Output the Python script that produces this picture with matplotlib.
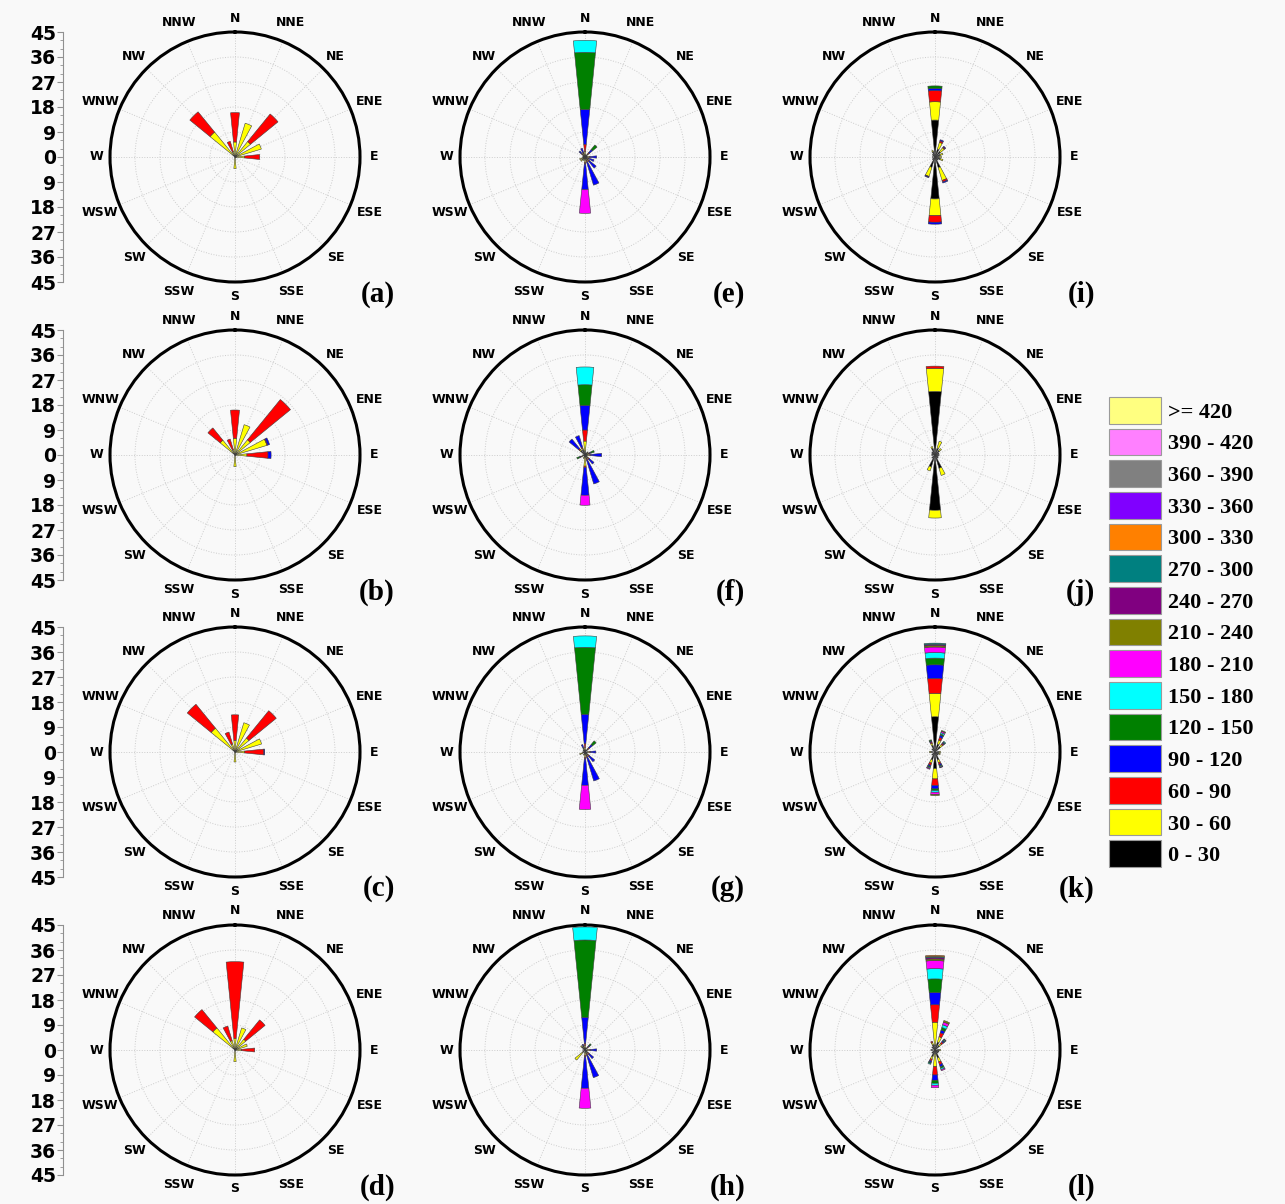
import numpy as np
import matplotlib.pyplot as plt
from matplotlib.patches import Patch
from matplotlib.ticker import MultipleLocator

directions = ['N', 'NNE', 'NE', 'ENE', 'E', 'ESE', 'SE', 'SSE',
              'S', 'SSW', 'SW', 'WSW', 'W', 'WNW', 'NW', 'NNW']

bin_labels = ['0 - 30', '30 - 60', '60 - 90', '90 - 120', '120 - 150',
              '150 - 180', '180 - 210', '210 - 240', '240 - 270', '270 - 300',
              '300 - 330', '330 - 360', '360 - 390', '390 - 420', '>= 420']
bin_colors = ['#000000', '#ffff00', '#ff0000', '#0000ff', '#008000',
              '#00ffff', '#ff00ff', '#808000', '#800080', '#008080',
              '#ff8000', '#8000ff', '#808080', '#ff80ff', '#ffff80']

# segment lengths per direction, in bin order (0-30 first)
panel_a = {'N': [0.6, 4.8, 10.6], 'NNE': [0.5, 12.2], 'NE': [0.5, 6.7, 12.8],
           'ENE': [0.5, 9.4], 'E': [0.5, 3.0, 5.4], 'ESE': [0.5], 'SE': [0.3],
           'S': [0.4, 3.8], 'NW': [0.6, 11.0, 9.4], 'NNW': [0.5, 1.5, 3.9]}
panel_b = {'N': [0.6, 5.4, 10.2], 'NNE': [0.5, 10.9], 'NE': [0.5, 6.6, 18.7],
           'ENE': [0.5, 11.5, 0.3, 0.7], 'E': [0.5, 3.8, 7.6, 1.1], 'SE': [0.3],
           'S': [0.4, 3.8], 'NW': [0.6, 6.3, 5.7], 'NNW': [0.5, 1.5, 4.0]}
panel_c = {'N': [0.6, 3.6, 9.2], 'NNE': [0.5, 10.5], 'NE': [0.5, 6.0, 12.7],
           'ENE': [0.5, 9.5], 'E': [0.5, 3.0, 6.9, 0.3], 'SE': [0.3],
           'S': [0.4, 3.2], 'NW': [0.6, 10.5, 11.1], 'NNW': [0.5, 2.5, 4.5]}
panel_d = {'N': [0.6, 3.6, 27.6], 'NNE': [0.5, 7.8], 'NE': [0.5, 4.5, 9.0],
           'ENE': [0.5, 4.1], 'E': [0.5, 1.8, 4.8], 'SE': [0.3],
           'S': [0.4, 3.8], 'NW': [0.6, 9.7, 8.5], 'NNW': [0.5, 3.0, 5.5]}
panel_e = {'N': [1.0, 1.0, 2.6, 12.5, 20.6, 4.3],
           'S': [1.0, 1.0, 0.5, 9.3, 0, 0, 8.5],
           'SSE': [1.0, 0.5, 0.5, 8.6], 'SE': [1.0, 0.5, 0.5, 3.2],
           'E': [1.0, 0.5, 0.3, 2.4], 'ESE': [0.8, 0.3, 0.3, 2.0],
           'NE': [1.0, 0.5, 0.5, 1.5, 2.1], 'NNW': [1.0, 0.5, 0.3, 1.5],
           'WSW': [0.8, 1.2], 'W': [0.8], 'NW': [1.0, 0.3, 0.3, 1.2],
           'SSW': [0.8, 0.5], 'SW': [1.2, 0.8], 'ENE': [0.8], 'NNE': [0.8], 'WNW': [0.8]}
panel_f = {'N': [1.5, 3.5, 4.0, 8.9, 7.4, 6.4],
           'S': [1.0, 3.0, 0.5, 10.0, 0, 0, 3.6],
           'SSE': [1.0, 0.5, 0.5, 8.9], 'NW': [2.0, 0.5, 0.5, 4.4],
           'NNW': [2.0, 0.5, 0.5, 4.3], 'E': [1.0, 0.5, 0.5, 4.0],
           'SE': [1.0, 0.5, 0.5, 2.2], 'ENE': [1.0, 0.5, 0.3, 0.5, 1.2],
           'WSW': [1.0, 0.5, 0.3, 0.3, 1.0], 'NE': [1.0, 0.5],
           'SSW': [0.8, 0.5], 'W': [0.8], 'ESE': [0.8], 'NNE': [0.8]}
panel_g = {'N': [0.8, 0.8, 1.4, 10.6, 24.1, 4.1],
           'S': [1.0, 1.0, 0.5, 9.5, 0, 0, 8.7],
           'SSE': [1.0, 0.5, 0.5, 8.9], 'NE': [1.0, 0.5, 0.5, 1.5, 1.7],
           'SE': [1.0, 0.5, 0.5, 2.5], 'E': [1.0, 0.5, 0.4, 2.0],
           'NNW': [1.0, 0.3, 0.3, 1.2], 'WSW': [0.8, 1.2], 'NW': [0.8],
           'W': [0.8], 'SSW': [0.8, 0.4], 'ESE': [0.8], 'NNE': [0.8]}
panel_h = {'N': [0.8, 0.8, 0.8, 9.4, 27.8, 4.7],
           'S': [1.0, 1.0, 0.5, 11.3, 0, 0, 7.2],
           'SSE': [1.0, 0.5, 0.5, 8.4], 'SW': [1.0, 3.7],
           'E': [1.0, 0.5, 0.5, 2.2], 'SE': [1.0, 0.5, 0.5, 2.0],
           'NW': [1.5, 0.5], 'NNW': [1.0, 0.3, 0.3, 0.6],
           'NE': [1.0, 0.3, 0.3, 0.5, 0.8], 'W': [0.8], 'ESE': [0.8], 'NNE': [0.8]}
panel_i = {'N': [13.3, 6.6, 4.0, 0.8, 0.9], 'S': [15.1, 6.0, 2.4, 0.7],
           'SSW': [3.9, 3.4, 0.2, 0.3], 'SSE': [4.0, 4.8, 0.6, 0.4],
           'NNE': [3.0, 2.5, 0.6, 0.4], 'NE': [2.5, 1.8, 0.4, 0.3],
           'ENE': [2.0, 1.0], 'E': [1.5, 0.8], 'ESE': [2.0, 1.0],
           'NNW': [2.0, 0.5], 'SE': [1.5], 'SW': [1.2], 'NW': [1.2], 'W': [1.0]}
panel_j = {'N': [22.9, 8.3, 0.8], 'S': [19.9, 2.8], 'NNE': [2.5, 2.7],
           'SSE': [5.0, 2.7], 'SSW': [4.5, 1.5], 'NNW': [2.5, 0.7],
           'NE': [2.0, 1.0], 'ENE': [1.5], 'E': [1.5], 'SE': [1.5],
           'SW': [1.5], 'W': [1.2], 'NW': [1.5], 'ESE': [1.2], 'WNW': [1.2]}
panel_k = {'N': [12.7, 8.4, 5.4, 4.9, 2.4, 2.0, 2.0, 0.5, 0.4, 0.5],
           'S': [6.0, 3.7, 2.4, 1.2, 0.6, 0.6, 0.8, 0.4],
           'NNE': [3.0, 1.5, 1.0, 0.8, 0.5, 0.5, 0.5, 0.3],
           'NE': [2.5, 1.0, 0.5, 0.4, 0.3, 0.3],
           'SSW': [3.0, 1.2, 0.8, 0.5, 0.4, 0.3, 0.3],
           'SSE': [3.0, 1.0, 0.7, 0.5, 0.3, 0.3, 0.2],
           'NNW': [2.5, 0.8, 0.5, 0.4, 0.4], 'E': [1.5, 0.5],
           'ESE': [1.5, 0.5], 'W': [1.5, 0.5], 'SE': [1.5], 'SW': [1.5], 'NW': [1.5]}
panel_l = {'N': [1.8, 8.2, 6.3, 4.4, 4.9, 3.7, 2.9, 0.6, 0.5, 0.4, 0.4],
           'S': [1.5, 4.5, 3.0, 1.9, 1.1, 0.7, 0.9],
           'NNE': [3.0, 2.0, 1.5, 1.0, 1.0, 1.0, 1.0, 0.6],
           'NE': [2.0, 1.0, 0.8, 0.5, 0.4, 0.3, 0.2],
           'SSE': [3.0, 1.5, 1.0, 0.8, 0.6, 0.5, 0.4],
           'SSW': [2.5, 1.0, 0.7, 0.5, 0.4, 0.3],
           'NNW': [2.0, 0.8, 0.5], 'E': [1.5, 0.5], 'ESE': [1.5],
           'W': [1.5], 'SE': [1.5], 'SW': [1.5], 'NW': [1.5]}

panels = [('a', panel_a), ('b', panel_b), ('c', panel_c), ('d', panel_d),
          ('e', panel_e), ('f', panel_f), ('g', panel_g), ('h', panel_h),
          ('i', panel_i), ('j', panel_j), ('k', panel_k), ('l', panel_l)]

scale_ticks = np.arange(-45, 46, 9)

W, H = 1285, 1204
R = 125
col_x = [235, 585, 935]
row_y = [157, 455, 752, 1050]
BG = '#f9f9f9'

fig = plt.figure(figsize=(W / 100, H / 100), dpi=100, facecolor=BG)
theta = np.deg2rad(np.arange(16) * 22.5)

for n, (letter, data) in enumerate(panels):
    cx, cy = col_x[n // 4], row_y[n % 4]
    ax = fig.add_axes([(cx - R) / W, 1 - (cy + R) / H, 2 * R / W, 2 * R / H],
                      projection='polar')
    ax.set_theta_zero_location('N')
    ax.set_theta_direction(-1)
    ax.set_facecolor('none')

    # build direction x bin matrix
    mat = np.zeros((16, len(bin_labels)))
    for d, segs in data.items():
        mat[directions.index(d), :len(segs)] = segs
    bottom = np.zeros(16)
    for k in range(len(bin_labels)):
        h = mat[:, k]
        m = h > 0
        if m.any():
            ax.bar(theta[m], h[m], width=np.deg2rad(11.5), bottom=bottom[m],
                   color=bin_colors[k], edgecolor='#404040', linewidth=0.4, zorder=3)
        bottom += h

    ax.set_ylim(0, 45)
    ax.set_yticks([9, 18, 27, 36])
    ax.set_yticklabels([])
    ax.set_xticks(theta)
    ax.set_xticklabels([])
    ax.grid(color='#cccccc', linestyle=':', linewidth=0.7)
    ax.tick_params(axis='x', direction='in', length=5, width=1.5, colors='black')
    ax.spines['polar'].set_color('black')
    ax.spines['polar'].set_linewidth(2.2)

    for i, d in enumerate(directions):
        rpx = 139 + 3.5 * (len(d) - 1)
        ax.text(theta[i], 45 * rpx / R, d, ha='center', va='center',
                fontsize=9, fontweight='bold', clip_on=False)

    fig.text((cx + 160) / W, 1 - (cy + 137) / H, '(' + letter + ')',
             ha='right', va='center', family='Liberation Serif',
             fontweight='bold', fontsize=21)

# left radial scales
for cy in row_y:
    sax = fig.add_axes([63 / W, 1 - (cy + R) / H, 0.0001, 2 * R / H])
    sax.set_facecolor('none')
    sax.set_ylim(-45, 45)
    sax.set_yticks(scale_ticks)
    sax.set_yticklabels([str(abs(t)) for t in scale_ticks])
    sax.yaxis.set_minor_locator(MultipleLocator(3))
    sax.set_xticks([])
    for s in ['top', 'right', 'bottom']:
        sax.spines[s].set_visible(False)
    sax.spines['left'].set_color('#909090')
    sax.spines['left'].set_linewidth(0.8)
    sax.tick_params(axis='y', which='major', length=4, width=0.8, color='#909090',
                    labelsize=13.5, pad=1)
    sax.tick_params(axis='y', which='minor', length=2, width=0.6, color='#909090')
    for lbl in sax.get_yticklabels():
        lbl.set_fontweight('bold')

handles = [Patch(facecolor=c, edgecolor='#9a9a9a', linewidth=0.8) for c in bin_colors[::-1]]
fs = 16
fpx = fs * 100 / 72
fig.legend(handles, bin_labels[::-1], loc='upper left',
           bbox_to_anchor=(1109 / W, 1 - 397 / H), frameon=False,
           prop={'family': 'Liberation Serif', 'weight': 'bold', 'size': fs},
           handlelength=52 / fpx, handleheight=1.47,
           labelspacing=5.0 / fpx, handletextpad=0.3,
           borderpad=0, borderaxespad=0)

fig.savefig('out.png', dpi=100, facecolor=BG)
